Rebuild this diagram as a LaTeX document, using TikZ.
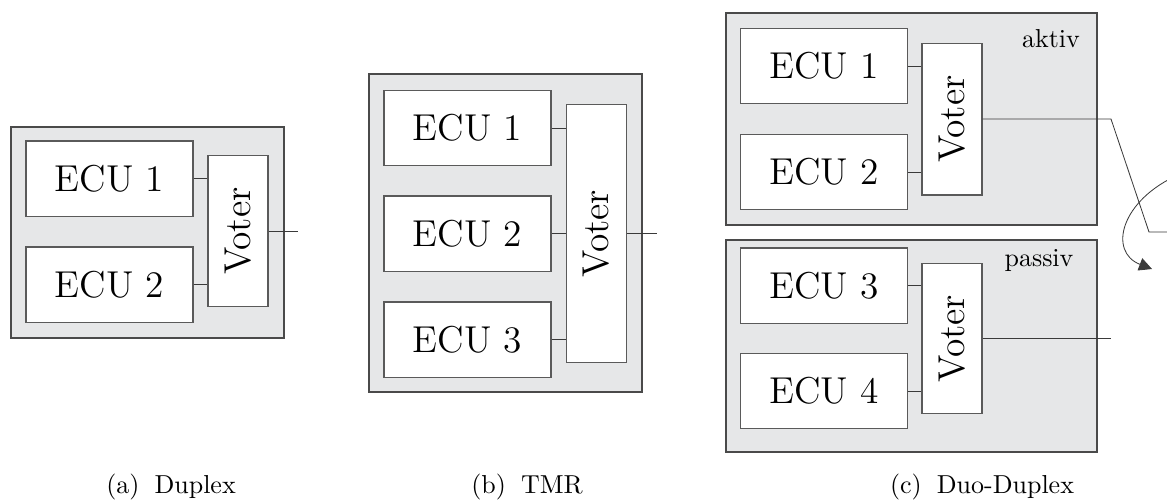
\documentclass[tikz,border=0pt]{standalone}
\usetikzlibrary{arrows.meta}
\definecolor{panelfill}{HTML}{E6E7E8}
\definecolor{panelline}{HTML}{4A4A4A}
\definecolor{boxline}{HTML}{5A5A5A}
\definecolor{wire}{HTML}{3A3A3A}
\begin{document}
\begin{tikzpicture}[x=0.385pt,y=-0.385pt,
  panel/.style={draw=panelline,fill=panelfill,line width=0.45pt,inner sep=0pt},
  ecu/.style={draw=boxline,fill=white,line width=0.4pt,inner sep=0pt,
    minimum width=64.3pt,minimum height=28.9pt,font=\Large},
  voter/.style={draw=boxline,fill=white,line width=0.4pt,inner sep=0pt,
    minimum width=23.1pt,label={[rotate=90,font=\Large]center:Voter}},
  wireline/.style={draw=wire,line width=0.32pt},
  subcaption/.style={anchor=base,font=\normalsize,inner sep=0pt}]
\clip (0,0) rectangle (1167,502);

% (a) Duplex
\node[panel,minimum width=105.1pt,minimum height=81.2pt] (pa) at (147.5,232.5) {};
\node[ecu] (a1) at (109.5,178.5) {ECU 1};
\node[ecu] (a2) at (109.5,284.5) {ECU 2};
\node[voter,minimum height=57.8pt] (av) at (238,231) {};
\coordinate (aout) at (298,231);
\draw[wireline] (a1.east) -- (a1.east -| av.west);
\draw[wireline] (a2.east) -- (a2.east -| av.west);
\draw[wireline] (av.east) -- (aout);

% (b) TMR
\node[panel,minimum width=105.1pt,minimum height=122.4pt] (pb) at (505.5,233) {};
\node[ecu] (b1) at (467.5,128) {ECU 1};
\node[ecu] (b2) at (467.5,233.5) {ECU 2};
\node[ecu] (b3) at (467.5,339.5) {ECU 3};
\node[voter,minimum height=99pt] (bv) at (596.5,233.5) {};
\coordinate (bout) at (657,233.5);
\draw[wireline] (b1.east) -- (b1.east -| bv.west);
\draw[wireline] (b2.east) -- (b2.east -| bv.west);
\draw[wireline] (b3.east) -- (b3.east -| bv.west);
\draw[wireline] (bv.east) -- (bout);

% (c) Duo-Duplex: active channel
\node[panel,minimum width=142.8pt,minimum height=81.6pt] (pc) at (911.5,119) {};
\node[ecu] (c1) at (824,66) {ECU 1};
\node[ecu] (c2) at (824,172) {ECU 2};
\node[voter,minimum height=58.5pt] (cv) at (952,119) {};
\node[anchor=base,inner sep=0pt] (aktiv) at (1051,47) {aktiv};
\draw[wireline] (c1.east) -- (c1.east -| cv.west);
\draw[wireline] (c2.east) -- (c2.east -| cv.west);

% (c) Duo-Duplex: passive channel
\node[panel,minimum width=142.8pt,minimum height=81.6pt] (pd) at (911.5,346) {};
\node[ecu] (d3) at (824,285.5) {ECU 3};
\node[ecu] (d4) at (824,391) {ECU 4};
\node[voter,minimum height=58.1pt] (dv) at (952,338.5) {};
\node[anchor=base,inner sep=0pt] (passiv) at (1039,266) {passiv};
\draw[wireline] (d3.east) -- (d3.east -| dv.west);
\draw[wireline] (d4.east) -- (d4.east -| dv.west);

% change-over switch
\coordinate (sa) at (1111,119);
\coordinate (sb) at (1111,338.5);
\coordinate (sp) at (1149,232);
\coordinate (sq) at (1180,232);
\coordinate (ra) at (1180,174);
\coordinate (rb) at (1152,269);
\draw[wireline] (cv.east) -- (sa) -- (sp) -- (sq);
\draw[wireline] (dv.east) -- (sb);
\draw[wireline,-{Triangle[length=5pt,width=5pt]}] (ra) .. controls (1120,200) and (1108,252) .. (rb);

% captions
\node[subcaption] (capa) at (171,493) {(a)\hspace{5.8pt}Duplex};
\node[subcaption] (capb) at (527,493) {(b)\hspace{5.8pt}TMR};
\node[subcaption] (capc) at (982,493) {(c)\hspace{5.8pt}Duo-Duplex};
\end{tikzpicture}
\end{document}
